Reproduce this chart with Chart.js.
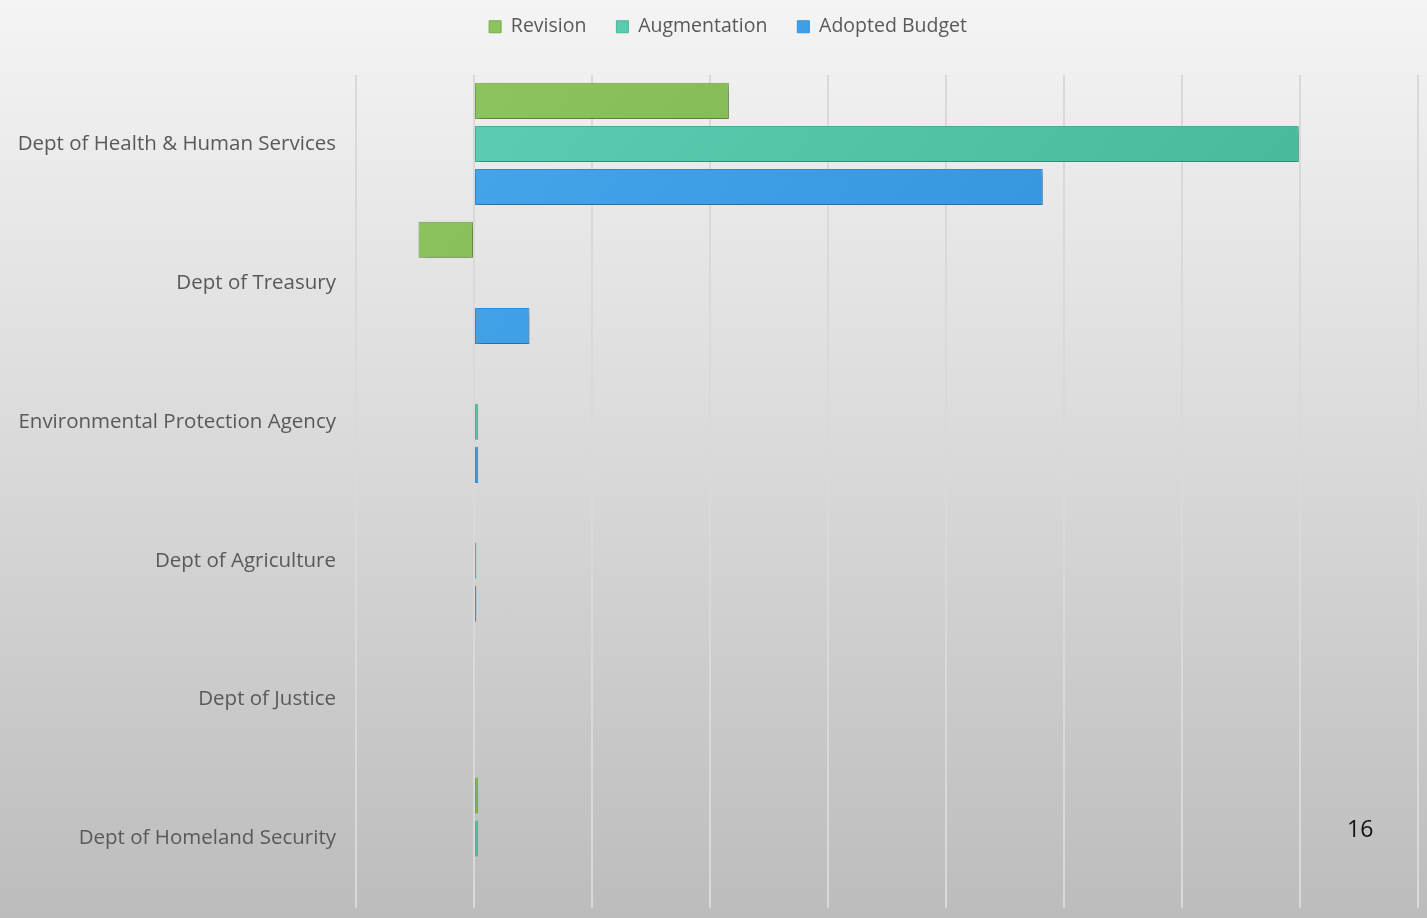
<!DOCTYPE html>
<html>
<head>
<meta charset="utf-8">
<script src="https://cdn.jsdelivr.net/npm/chart.js@4"></script>
<style>
  html, body { margin: 0; padding: 0; }
  body {
    width: 1427px; height: 918px; overflow: hidden; position: relative;
    background: linear-gradient(to bottom, #f4f4f4 0%, #d9d9d9 50%, #bcbcbc 100%);
  }
  #grafico { position: absolute; left: 0; top: 0; }
  #pageNum {
    position: absolute; left: 1347px; top: 812px;
    font: 23px "Open Sans", sans-serif; color: #111;
  }
</style>
</head>
<body>
<canvas id="grafico" width="1427" height="918"></canvas>
<div id="pageNum">16</div>
<script>
  // departments, top to bottom
  const departamentos = [
    "Dept of Health & Human Services",
    "Dept of Treasury",
    "Environmental Protection Agency",
    "Dept of Agriculture",
    "Dept of Justice",
    "Dept of Homeland Security",
  ];

  // values (one grid step = 1)
  const revision = [2.16, -0.47, 0, 0, 0, 0.035];
  const augmentation = [6.99, 0, 0.035, 0.02, 0, 0.035];
  const adoptedBudget = [4.82, 0.47, 0.035, 0.02, 0, 0];

  const eixoMin = -1;
  const eixoMax = 8;

  function gradiente(claro, escuro) {
    return function (context) {
      const chart = context.chart;
      const area = chart.chartArea;
      if (!area) return escuro;
      const g = chart.ctx.createLinearGradient(area.left, area.top, area.right, area.bottom);
      g.addColorStop(0, claro);
      g.addColorStop(1, escuro);
      return g;
    };
  }

  const sombra = {
    id: "sombra",
    beforeDraw(chart) {
      // legend sits a bit right of centre in the original
      if (chart.legend) {
        chart.legend.left = 19;
        chart.legend.right = chart.width - 9 + 19;
      }
    },
    beforeDatasetDraw(chart) {
      const ctx = chart.ctx;
      ctx.save();
      ctx.shadowColor = "rgba(0, 0, 0, 0.35)";
      ctx.shadowBlur = 7;
      ctx.shadowOffsetX = 2;
      ctx.shadowOffsetY = 3;
    },
    afterDatasetDraw(chart) {
      chart.ctx.restore();
    },
  };

  const ctx = document.getElementById("grafico");

  var grafico = new Chart(ctx, {
    type: "bar",
    data: {
      labels: departamentos,
      datasets: [
        {
          label: "Revision",
          data: revision,
          backgroundColor: gradiente("#8ec660", "#6e9f40"),
          borderColor: "#78ab4b",
          borderWidth: 1,
          borderSkipped: false,
        },
        {
          label: "Augmentation",
          data: augmentation,
          backgroundColor: gradiente("#5fd0b4", "#3ca98c"),
          borderColor: "#48b898",
          borderWidth: 1,
          borderSkipped: false,
        },
        {
          label: "Adopted Budget",
          data: adoptedBudget,
          backgroundColor: gradiente("#48a8ee", "#2483cc"),
          borderColor: "#3093dc",
          borderWidth: 1,
          borderSkipped: false,
        },
      ],
    },
    options: {
      indexAxis: "y",
      responsive: false,
      animation: false,
      categoryPercentage: 0.93,
      barPercentage: 0.837,
      layout: {
        padding: { left: 0, right: 9, top: -13, bottom: 10 },
      },
      plugins: {
        legend: {
          position: "top",
          labels: {
            color: "#595959",
            font: { family: "Open Sans", size: 19.5 },
            boxWidth: 12,
            boxHeight: 12,
            padding: 30,
          },
        },
        tooltip: { enabled: false },
      },
      scales: {
        x: {
          position: "top",
          min: eixoMin,
          max: eixoMax,
          ticks: { display: false, stepSize: 1 },
          grid: { color: "#d9d9d9", lineWidth: 2, drawTicks: false },
          border: { display: false },
          afterFit(scale) {
            scale.height = 28;
          },
        },
        y: {
          ticks: {
            color: "#595959",
            font: { family: "Open Sans", size: 20.5, lineHeight: 0.8 },
            padding: 0,
          },
          grid: { display: false, drawTicks: true, tickLength: 20 },
          border: { display: false },
          afterFit(scale) {
            scale.width = 356;
          },
        },
      },
    },
    plugins: [sombra],
  });
</script>
</body>
</html>
